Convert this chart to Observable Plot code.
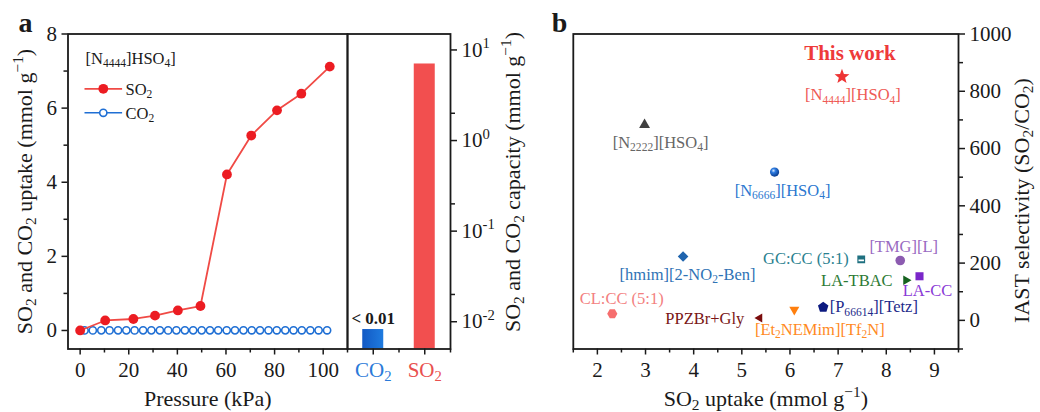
<!DOCTYPE html>
<html>
<head>
<meta charset="utf-8">
<script src="https://cdn.jsdelivr.net/npm/d3@7"></script>
<script src="https://cdn.jsdelivr.net/npm/@observablehq/plot@0.6"></script>
<style>
  html, body { margin: 0; padding: 0; background: #fff; }
  #wrap { position: relative; width: 1040px; height: 412px; overflow: hidden; background: #fff; font-family: 'Liberation Serif', 'DejaVu Serif', serif; }
  #wrap svg { position: absolute; top: 0; overflow: visible; }
  #wrap svg text { font-family: 'Liberation Serif', 'DejaVu Serif', serif; }
</style>
</head>
<body>
<div id="wrap"></div>
<script>
// ---------------- DATA ----------------
// Panel a: isotherms of [N4444]HSO4
const so2Pressure = [0, 10.3, 21.9, 30.8, 40.2, 49.5, 60.4, 70.4, 81.0, 91.0, 102.7];
const so2Uptake   = [0, 0.27, 0.31, 0.40, 0.54, 0.66, 4.21, 5.26, 5.94, 6.39, 7.12];
const co2Pressure = [1.8, 5.2, 8.7, 12.1, 15.6, 19.0, 22.4, 25.9, 29.3, 32.8, 36.2, 39.6, 43.1, 46.5, 50.0,
                     53.4, 56.8, 60.3, 63.7, 67.2, 70.6, 74.0, 77.5, 80.9, 84.4, 87.8, 91.2, 94.7, 98.1, 101.6];
const co2Uptake   = [0.002, 0.002, 0.003, 0.002, 0.003, 0.003, 0.002, 0.003, 0.003, 0.003, 0.002, 0.003, 0.003, 0.003, 0.003,
                     0.003, 0.003, 0.004, 0.003, 0.003, 0.004, 0.003, 0.004, 0.004, 0.003, 0.004, 0.004, 0.004, 0.004, 0.004];
const pressureTicks = [0, 20, 40, 60, 80, 100];
const pressureMinor = [10, 30, 50, 70, 90];
const uptakeTicks = [0, 2, 4, 6, 8];
const uptakeMinor = [1, 3, 5, 7];
const legendTitle = "[N_{4444}]HSO_{4}]";
const seriesNames = ["SO_{2}", "CO_{2}"];

// Panel a (right part): capacities, log scale
const gases = ["CO_{2}", "SO_{2}"];
const capacity = [0.0082, 7.0];
const capacityNote = ["< 0.01", ""];
const capTicks = [0.01, 0.1, 1, 10];
const capTickLabels = ["10^{-2}", "10^{-1}", "10^{0}", "10^{1}"];
const capMinor = [0.02, 0.2, 2];

// Panel b: comparison
const materials = ["[N_{4444}][HSO_{4}]", "[N_{2222}][HSO_{4}]", "[N_{6666}][HSO_{4}]", "[hmim][2-NO_{2}-Ben]",
                   "GC:CC (5:1)", "[TMG][L]", "LA-TBAC", "LA-CC", "CL:CC (5:1)", "PPZBr+Gly",
                   "[Et_{2}NEMim][Tf_{2}N]", "[P_{66614}][Tetz]"];
const so2UptakeB = [7.08, 2.98, 5.68, 3.78, 7.48, 8.29, 8.41, 8.69, 2.31, 5.37, 6.09, 6.69];
const selectivity = [851, 683, 518, 223, 213, 209, 140, 154, 23, 8, 37, 46];
const highlightLabel = "This work";
const uptakeTicksB = [2, 3, 4, 5, 6, 7, 8, 9];
const uptakeMinorB = [1.5, 2.5, 3.5, 4.5, 5.5, 6.5, 7.5, 8.5, 9.5];
const selTicks = [0, 200, 400, 600, 800, 1000];
const selMinor = [-100, 100, 300, 500, 700, 900];

// ---------------- STYLES ----------------
const FONT = "'Liberation Serif', 'DejaVu Serif', serif";
const INK = "#1a1a1a";
const RED_LINE = "#f04a45", RED_DOT = "#ec1c22", BLUE = "#1f6fd4";
const barFill = ["url(#co2Grad)", "#f24f4f"];
const gasColor = ["#2a7ad9", "#e9504f"];
const markerKind = ["star", "triangleUp", "circle", "diamond", "halfSquare", "circle", "triangleRight", "square",
                    "hexagon", "triangleLeft", "triangleDown", "pentagon"];
const markerFill = ["#ee3434", "#404040", "url(#sphereGrad)", "#1f64ae", "#1f7080", "#8c5bb0", "#16621f", "#7a26c9",
                    "#f66e6e", "#7b0c0c", "#ff7f0e", "#0c1a80"];
const markerR = [7.8, 6.3, 4.6, 5.3, 3.9, 4.8, 5.5, 5.7, 5.1, 5.2, 5.8, 5.5];
const labelColor = ["#ee5a55", "#666666", "#2b78d0", "#2f73b5", "#2a7f8f", "#9a6bc2", "#2d7a35", "#8a3ad6",
                    "#f38080", "#7a1515", "#ff8a1f", "#1d2a8a"];
// [dx, dy, textAnchor] of each label relative to its marker (px)
const labelPlace = [[11, 18.5, "middle"], [16, 18, "middle"], [8, 18.5, "middle"], [4.5, 18, "middle"],
                    [-12.5, -1, "end"], [3.5, -14, "middle"], [-13.4, 0.5, "end"], [8, 14.5, "middle"],
                    [9.4, -15.3, "middle"], [-15.3, 1, "end"], [25.5, 20, "middle"], [6.5, 0, "start"]];

// ---------------- HELPERS ----------------
const NS = "http://www.w3.org/2000/svg";
const Rof = size => Math.sqrt(size / Math.PI);
function polygon(n, rot) {
  return {draw(ctx, size) {
    const r = Rof(size);
    for (let i = 0; i < n; ++i) {
      const a = rot + 2 * Math.PI * i / n;
      const x = r * Math.sin(a), y = -r * Math.cos(a);
      if (i) ctx.lineTo(x, y); else ctx.moveTo(x, y);
    }
    ctx.closePath();
  }};
}
const symbols = {
  star: {draw(ctx, size) {
    const r = Rof(size), ri = r * 0.42;
    for (let i = 0; i < 10; ++i) {
      const a = Math.PI * i / 5, rr = i % 2 ? ri : r;
      const x = rr * Math.sin(a), y = -rr * Math.cos(a);
      if (i) ctx.lineTo(x, y); else ctx.moveTo(x, y);
    }
    ctx.closePath();
  }},
  triangleUp: polygon(3, 0),
  triangleDown: polygon(3, Math.PI),
  triangleRight: polygon(3, Math.PI / 2),
  triangleLeft: polygon(3, -Math.PI / 2),
  square: polygon(4, Math.PI / 4),
  diamond: polygon(4, 0),
  hexagon: polygon(6, Math.PI / 6),
  pentagon: polygon(5, 0),
  circle: {draw(ctx, size) { const r = Rof(size); ctx.moveTo(r, 0); ctx.arc(0, 0, r, 0, 2 * Math.PI); }},
  halfSquare: {draw(ctx, size) {
    const h = Rof(size);
    ctx.moveTo(-h, -h); ctx.lineTo(h, -h); ctx.lineTo(h, h); ctx.lineTo(-h, h); ctx.closePath();
    const a = h * 0.7, b1 = h * 0.05, b2 = h * 0.5;
    ctx.moveTo(-a, b1); ctx.lineTo(-a, b2); ctx.lineTo(a, b2); ctx.lineTo(a, b1); ctx.closePath();
  }},
  hline: {draw(ctx, size) { const r = Rof(size); ctx.moveTo(-r, 0); ctx.lineTo(r, 0); }}
};

function rich(svg) {
  svg.querySelectorAll("text").forEach(t => {
    const s = t.textContent;
    if (!/[_^]\{/.test(s)) return;
    t.textContent = "";
    let cur = 0;
    const add = (str, level) => {
      if (!str) return;
      const ts = document.createElementNS(NS, "tspan");
      const target = level === 1 ? 0.2 : level === -1 ? -0.4 : 0;
      const k = level ? 0.7 : 1;
      const d = target - cur;
      if (d) ts.setAttribute("dy", (d / k).toFixed(3) + "em");
      if (level) ts.setAttribute("font-size", "70%");
      ts.textContent = str;
      t.appendChild(ts);
      cur = target;
    };
    const re = /([_^])\{([^}]*)\}/g;
    let last = 0, m;
    while ((m = re.exec(s))) {
      add(s.slice(last, m.index), 0);
      add(m[2], m[1] === "_" ? 1 : -1);
      last = re.lastIndex;
    }
    add(s.slice(last), 0);
  });
}
function addDefs(svg, html) {
  const defs = document.createElementNS(NS, "defs");
  defs.innerHTML = html;
  svg.insertBefore(defs, svg.firstChild);
}
const wrap = document.getElementById("wrap");
function place(svg, left) {
  svg.style.left = left + "px";
  wrap.appendChild(svg);
  rich(svg);
}
const F = {fontFamily: FONT};
const baseStyle = {fontFamily: FONT, fontSize: "21px", color: INK, background: "transparent", overflow: "visible"};
const TOP = 33.5, BOTTOM = 63.5, H = 412;

// ---------------- PANEL a (isotherms) ----------------
const soData = so2Pressure.map((p, i) => ({p, u: so2Uptake[i]}));
const coData = co2Pressure.map((p, i) => ({p, u: co2Uptake[i]}));
const A = Plot.plot({
  width: 347, height: H, marginLeft: 67.5, marginRight: 0, marginTop: TOP, marginBottom: BOTTOM,
  style: baseStyle,
  x: {domain: [-5, 110], label: null},
  y: {domain: [-0.5, 8], label: null},
  marks: [
    Plot.axisX({...F, ticks: pressureTicks, tickSize: 6, tickPadding: 7, strokeWidth: 1.5, label: null}),
    Plot.axisX({ticks: pressureMinor, tickSize: 4, tickFormat: () => "", strokeWidth: 1.5, label: null}),
    Plot.axisY({...F, ticks: uptakeTicks, tickSize: 6, tickPadding: 5, strokeWidth: 1.5, label: null}),
    Plot.axisY({ticks: uptakeMinor, tickSize: 4, tickFormat: () => "", strokeWidth: 1.5, label: null}),
    Plot.line(coData, {x: "p", y: "u", stroke: BLUE, strokeWidth: 1.5}),
    Plot.dot(coData, {x: "p", y: "u", r: 3.6, stroke: BLUE, fill: "white", strokeWidth: 1.6}),
    Plot.line(soData, {x: "p", y: "u", stroke: RED_LINE, strokeWidth: 1.8}),
    Plot.dot(soData, {x: "p", y: "u", r: 4.9, fill: RED_DOT}),
    Plot.frame({stroke: INK, strokeWidth: 1.8}),
    // legend
    Plot.text([legendTitle], {...F, frameAnchor: "top-left", dx: 17.5, dy: 24.8, textAnchor: "start", lineAnchor: "middle", fontSize: 16.5, fill: INK}),
    Plot.dot([seriesNames[0]], {frameAnchor: "top-left", dx: 35.3, dy: 54.8, symbol: symbols.hline, r: 18.8, stroke: RED_LINE, strokeWidth: 1.8}),
    Plot.dot([seriesNames[0]], {frameAnchor: "top-left", dx: 35.3, dy: 54.8, r: 4.9, fill: RED_DOT}),
    Plot.text([seriesNames[0]], {...F, frameAnchor: "top-left", dx: 57.5, dy: 55.3, textAnchor: "start", lineAnchor: "middle", fontSize: 16.5, fill: INK}),
    Plot.dot([seriesNames[1]], {frameAnchor: "top-left", dx: 35.3, dy: 78.8, symbol: symbols.hline, r: 18.8, stroke: BLUE, strokeWidth: 1.6}),
    Plot.dot([seriesNames[1]], {frameAnchor: "top-left", dx: 35.3, dy: 78.8, r: 3.6, stroke: BLUE, fill: "white", strokeWidth: 1.6}),
    Plot.text([seriesNames[1]], {...F, frameAnchor: "top-left", dx: 57.5, dy: 79.3, textAnchor: "start", lineAnchor: "middle", fontSize: 16.5, fill: INK}),
    // titles
    Plot.text(["Pressure (kPa)"], {...F, frameAnchor: "bottom", dy: 49.5, textAnchor: "middle", lineAnchor: "middle", fontSize: 22}),
    Plot.text(["SO_{2} and CO_{2} uptake (mmol g^{\u22121})"], {...F, frameAnchor: "left", rotate: -90, dx: -43.5, textAnchor: "middle", lineAnchor: "middle", fontSize: 22}),
    Plot.text(["a"], {...F, frameAnchor: "top-left", dx: -42.5, dy: -10.8, textAnchor: "middle", lineAnchor: "middle", fontSize: 28, fontWeight: "bold"})
  ]
});
place(A, 0);

// ---------------- PANEL a (capacity bars) ----------------
const bars = gases.map((g, i) => ({gas: g, pos: i, cap: capacity[i], note: capacityNote[i], fill: barFill[i]}));
const capBase = 0.005;
const A2 = Plot.plot({
  width: 193, height: H, marginLeft: 0, marginRight: 90, marginTop: TOP, marginBottom: BOTTOM,
  style: baseStyle,
  x: {domain: [0, gases.length], label: null},
  y: {type: "log", domain: [capBase, 15], label: null},
  marks: [
    ...bars.map(d => Plot.rect([d], {x: "pos", interval: 1, y1: () => capBase, y2: "cap", insetLeft: 15.25, insetRight: 15.25, fill: d.fill})),
    Plot.text(bars.filter(d => d.note), {...F, x: d => d.pos + 0.5, y: "cap", text: "note", dy: -11, lineAnchor: "middle", fontSize: 17, fontWeight: "bold", fill: INK}),
    ...bars.map((d, i) => Plot.axisX({...F, ticks: [d.pos + 0.5], tickFormat: () => d.gas, tickSize: 6, tickPadding: 7, strokeWidth: 1.5, fill: gasColor[i], label: null})),
    Plot.axisX({ticks: bars.map(d => d.pos).concat([gases.length]), tickSize: 4, tickFormat: () => "", strokeWidth: 1.5, label: null}),
    Plot.axisY({...F, anchor: "right", ticks: capTicks, tickFormat: d => capTickLabels[capTicks.indexOf(d)], tickSize: 6, tickPadding: 5, strokeWidth: 1.5, label: null}),
    Plot.axisY({anchor: "right", ticks: capMinor, tickFormat: () => "", tickSize: 4, strokeWidth: 1.5, label: null}),
    Plot.frame({stroke: INK, strokeWidth: 1.8}),
    Plot.text(["SO_{2} and CO_{2} capacity (mmol g^{\u22121})"], {...F, frameAnchor: "right", rotate: -90, dx: 62.5, dy: -9.5, textAnchor: "middle", lineAnchor: "middle", fontSize: 22})
  ]
});
addDefs(A2, `<linearGradient id="co2Grad" x1="0" x2="1" y1="0" y2="0"><stop offset="0" stop-color="#1259c4"/><stop offset="1" stop-color="#1f7bdf"/></linearGradient>`);
place(A2, 347);

// ---------------- PANEL b ----------------
const pts = materials.map((name, i) => ({name, u: so2UptakeB[i], s: selectivity[i]}));
const marksB = [
  Plot.axisX({...F, ticks: uptakeTicksB, tickSize: 6, tickPadding: 7, strokeWidth: 1.5, label: null}),
  Plot.axisX({ticks: uptakeMinorB, tickSize: 4, tickFormat: () => "", strokeWidth: 1.5, label: null}),
  Plot.axisY({...F, anchor: "right", ticks: selTicks, tickFormat: d => String(d), tickSize: 6, tickPadding: 5, strokeWidth: 1.5, label: null}),
  Plot.axisY({anchor: "right", ticks: selMinor, tickFormat: () => "", tickSize: 4, strokeWidth: 1.5, label: null}),
  Plot.frame({stroke: INK, strokeWidth: 1.8})
];
pts.forEach((d, i) => {
  marksB.push(Plot.dot([d], {x: "u", y: "s", symbol: symbols[markerKind[i]], r: markerR[i], fill: markerFill[i], stroke: "none"}));
  const [dx, dy, anchor] = labelPlace[i];
  marksB.push(Plot.text([d], {...F, x: "u", y: "s", text: "name", dx, dy, textAnchor: anchor, lineAnchor: "middle", fill: labelColor[i], fontSize: 16.5}));
});
marksB.push(Plot.text([pts[0]], {...F, x: "u", y: "s", text: () => highlightLabel, dx: 8, dy: -23, textAnchor: "middle", lineAnchor: "middle", fill: "#ee3a3a", fontSize: 21, fontWeight: "bold"}));
marksB.push(Plot.text(["SO_{2} uptake (mmol g^{\u22121})"], {...F, frameAnchor: "bottom", dy: 49.5, textAnchor: "middle", lineAnchor: "middle", fontSize: 22}));
marksB.push(Plot.text(["IAST selectivity (SO_{2}/CO_{2})"], {...F, frameAnchor: "right", rotate: -90, dx: 63, dy: 9, textAnchor: "middle", lineAnchor: "middle", fontSize: 22}));
marksB.push(Plot.text(["b"], {...F, frameAnchor: "top-left", dx: -13.8, dy: -10.8, textAnchor: "middle", lineAnchor: "middle", fontSize: 28, fontWeight: "bold"}));
const B = Plot.plot({
  width: 500, height: H, marginLeft: 32.8, marginRight: 82, marginTop: TOP, marginBottom: BOTTOM,
  style: baseStyle,
  x: {domain: [1.5, 9.5], label: null},
  y: {domain: [-100, 1000], label: null},
  marks: marksB
});
addDefs(B, `<radialGradient id="sphereGrad" cx="0.38" cy="0.35" r="0.65"><stop offset="0" stop-color="#d6e8ff"/><stop offset="0.35" stop-color="#2d7be0"/><stop offset="1" stop-color="#0a3c8e"/></radialGradient>`);
place(B, 540);
</script>
</body>
</html>
